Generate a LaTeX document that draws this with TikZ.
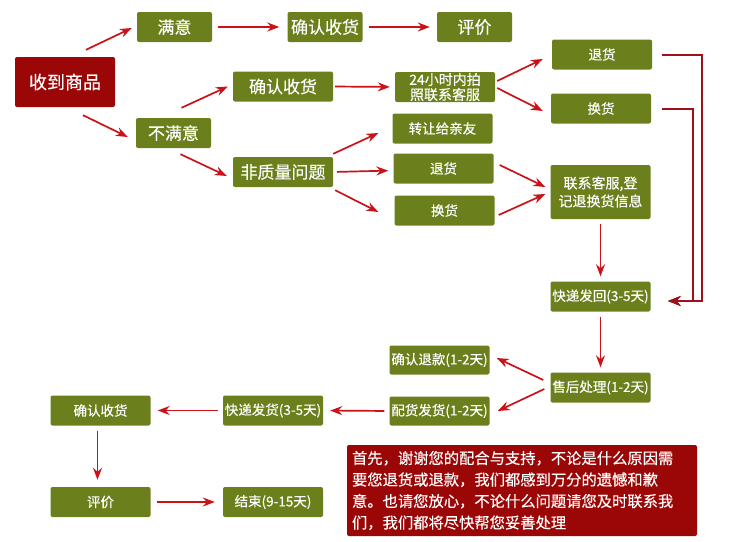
\documentclass[tikz,border=0pt]{standalone}
\usepackage{fontspec}
\setmainfont{Noto Sans CJK SC}[FakeBold=0.3]
\usetikzlibrary{arrows.meta}

\definecolor{olivebox}{HTML}{6B7F1C}
\definecolor{redbox}{HTML}{9B0606}
\definecolor{arrowred}{HTML}{CC1219}
\definecolor{backred}{HTML}{A0101A}

\begin{document}
\begin{tikzpicture}[
    x=1pt, y=-1pt,
    box/.style={rectangle, rounded corners=2pt, fill=olivebox, text=white, minimum width=100pt, minimum height=30pt, inner sep=1pt, align=center, font=\fontsize{13.5}{15}\selectfont},
    bigbox/.style={box, font=\fontsize{17}{20}\selectfont},
    arrow/.style={-{Stealth[length=12pt, width=9pt, inset=4pt]}, line width=1.7pt, draw=arrowred},
    backline/.style={-{Stealth[length=13pt, width=10pt, inset=4pt]}, line width=2pt, draw=backred}
]
    \useasboundingbox (0,0) rectangle (744,541);

    % Start
    \node[bigbox, fill=redbox, minimum width=100pt, minimum height=50pt, font=\fontsize{18}{20}\selectfont] (recv) at (65,82) {收到商品};

    % Satisfied branch
    \node[bigbox, minimum width=75pt] (sat) at (174.5,27) {满意};
    \node[bigbox, minimum width=75pt] (conf1) at (325,27) {确认收货};
    \node[bigbox, minimum width=75pt] (eval1) at (474.5,27) {评价};

    % Not satisfied branch
    \node[bigbox, minimum width=75pt] (unsat) at (173.5,133) {不满意};
    \node[bigbox] (conf2) at (283,86.5) {确认收货};
    \node[bigbox] (nonq) at (283,172) {非质量问题};

    % Right column
    \node[box, font=\fontsize{14}{15}\selectfont] (photo) at (445,87) {24小时内拍\\照联系客服};
    \node[box] (ret1) at (602,54.5) {退货};
    \node[box] (exch1) at (601,108.5) {换货};
    \node[box] (gift) at (442.5,128.5) {转让给亲友};
    \node[box] (ret2) at (443.5,168.5) {退货};
    \node[box] (exch2) at (444.5,210.5) {换货};
    \node[box, minimum height=54pt, font=\fontsize{14}{18}\selectfont] (contact) at (600.5,192) {联系客服,登\\记退换货信息};
    \node[box] (back) at (600.5,296.5) {快递发回(3-5天)};
    \node[box] (proc) at (600.5,387.5) {售后处理(1-2天)};

    % Bottom rows
    \node[box, minimum height=29pt] (refund) at (439.5,360) {确认退款(1-2天)};
    \node[box, minimum height=29pt] (ship) at (439.5,411) {配货发货(1-2天)};
    \node[box] (express) at (273,410.5) {快递发货(3-5天)};
    \node[box] (conf3) at (100.5,410.5) {确认收货};
    \node[box] (eval2) at (100.5,502) {评价};
    \node[box] (done) at (273,502) {结束(9-15天)};

    % Note
    \node[rectangle, rounded corners=2pt, fill=redbox, text=white, minimum width=350pt, minimum height=91pt, inner sep=5pt, text width=340pt, align=left, font=\fontsize{15.3}{21.5}\selectfont] (note) at (522,490.5)
        {首先，谢谢您的配合与支持，不论是什么原因需\\要您退货或退款，我们都感到万分的遗憾和歉\\意。也请您放心，不论什么问题请您及时联系我\\们，我们都将尽快帮您妥善处理};

    % Arrows
    \draw[arrow] ([shift={(21,-7)}]recv.north) -- ([shift={(-5,1)}]sat.west);
    \draw[arrow] ([shift={(18,8)}]recv.south) -- ([shift={(-8,4)}]unsat.west);
    \draw[arrow, shorten <=6pt, shorten >=8pt] (sat.east) -- (conf1.west);
    \draw[arrow, shorten <=6pt, shorten >=7pt] (conf1.east) -- (eval1.west);
    \draw[arrow] ([shift={(8,-10)}]unsat.north) -- ([shift={(-5,0)}]conf2.west);
    \draw[arrow] ([shift={(7,6)}]unsat.south) -- ([shift={(-6,4)}]nonq.west);
    \draw[arrow, shorten <=2pt, shorten >=5pt] (conf2.east) -- (photo.west);
    \draw[arrow] ([shift={(2,-6)}]photo.east) -- ([shift={(-9,4.5)}]ret1.west);
    \draw[arrow] ([shift={(2,1)}]photo.east) -- ([shift={(-8,2.5)}]exch1.west);
    \draw[arrow] ([shift={(0,-3)}]nonq.north east) -- ([shift={(-14,4.5)}]gift.west);
    \draw[arrow, shorten <=4pt, shorten >=5pt] (nonq.east) -- ([shift={(0,2)}]ret2.west);
    \draw[arrow] ([shift={(2,3)}]nonq.south east) -- ([shift={(-16,1.5)}]exch2.west);
    \draw[arrow] ([shift={(6,-3.5)}]ret2.east) -- ([shift={(-5,-5)}]contact.west);
    \draw[arrow] ([shift={(4,4.5)}]exch2.east) -- ([shift={(-5,2)}]contact.west);
    \draw[arrow, shorten <=5pt, shorten >=5pt] (contact.south) -- (back.north);
    \draw[backline] ([shift={(10,0)}]ret1.east) -- ++(40,0) |- ([shift={(17,4.5)}]back.east);
    \draw[backline] ([shift={(11,0)}]exch1.east) -- ++(31,0) |- ([shift={(17,4.5)}]back.east);
    \draw[arrow, shorten <=5pt, shorten >=5pt] (back.south) -- (proc.north);
    \draw[arrow] ([shift={(-7,-7.5)}]proc.west) -- ([shift={(7,-2)}]refund.east);
    \draw[arrow] ([shift={(-6,1.5)}]proc.west) -- ([shift={(8,0)}]ship.east);
    \draw[arrow, shorten <=5pt, shorten >=7pt] (ship.west) -- (express.east);
    \draw[arrow, shorten <=5pt, shorten >=7pt] (express.west) -- (conf3.east);
    \draw[arrow, shorten <=5pt, shorten >=7pt] ([shift={(-3,0)}]conf3.south) -- ([shift={(-3,0)}]eval2.north);
    \draw[arrow, shorten <=6pt, shorten >=8pt] (eval2.east) -- (done.west);
\end{tikzpicture}
\end{document}
